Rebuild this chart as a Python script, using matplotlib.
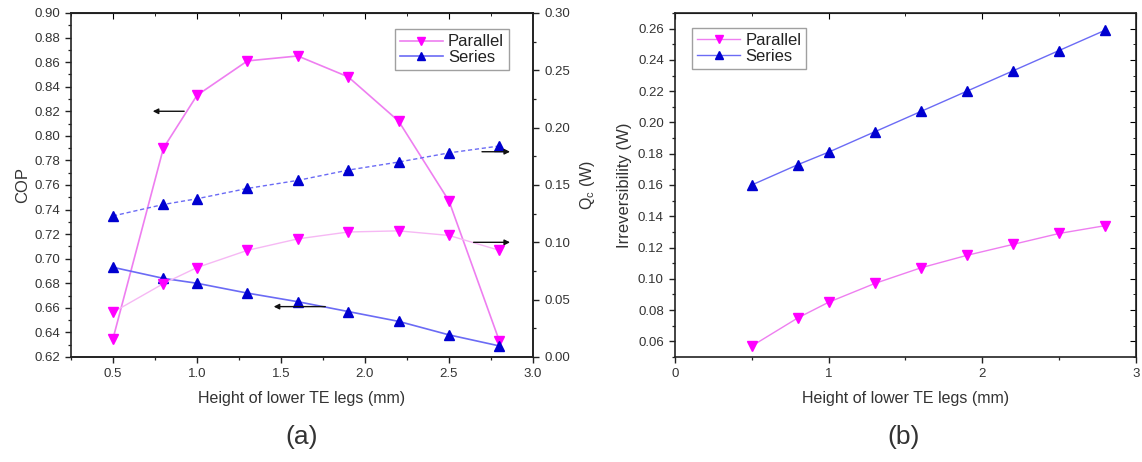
import numpy as np
import matplotlib.pyplot as plt
from matplotlib.ticker import MultipleLocator

plt.rcParams['font.family'] = ['Liberation Sans', 'DejaVu Sans']

# heights of lower TE legs (mm)
h = [0.5, 0.8, 1.0, 1.3, 1.6, 1.9, 2.2, 2.5, 2.8]

# (a) COP and cooling capacity
cop_par = [0.635, 0.790, 0.833, 0.861, 0.865, 0.848, 0.812, 0.747, 0.633]
cop_ser = [0.693, 0.684, 0.680, 0.672, 0.665, 0.657, 0.649, 0.638, 0.629]
qc_par = [0.039, 0.064, 0.078, 0.093, 0.103, 0.109, 0.110, 0.106, 0.093]
qc_ser = [0.123, 0.133, 0.138, 0.147, 0.154, 0.163, 0.170, 0.178, 0.184]

# (b) irreversibility
irr_par = [0.057, 0.075, 0.085, 0.097, 0.107, 0.115, 0.122, 0.129, 0.134]
irr_ser = [0.160, 0.173, 0.181, 0.194, 0.207, 0.220, 0.233, 0.246, 0.259]

MAG = '#ff00ff'
PINK = '#ee7ef0'
PINK_LIGHT = '#f6b8f4'
BLUE = '#0000d0'
BLUE_LINE = '#6b6bf5'
TXT = '#333333'
ms = 7.5

fig = plt.figure(figsize=(11.42, 4.62), dpi=100)
ax1 = fig.add_axes([0.0622, 0.2273, 0.4045, 0.7446])
ax2 = fig.add_axes([0.591, 0.2273, 0.4037, 0.7446])


def style(ax):
    for s in ax.spines.values():
        s.set_linewidth(1.2)
        s.set_color('#222222')
    ax.tick_params(which='both', direction='out', labelsize=9.5, colors='#222222',
                   labelcolor=TXT)
    ax.tick_params(which='major', length=4.5, width=1.0)
    ax.tick_params(which='minor', length=2.5, width=0.9)


def legend(ax, **kw):
    lg = ax.legend(fontsize=12, frameon=True, fancybox=False, edgecolor='#888888',
                   borderpad=0.3, handlelength=2.6, labelspacing=0.05, handletextpad=0.3,
                   borderaxespad=0, markerscale=0.85, **kw)
    lg.get_frame().set_linewidth(1.0)
    for t in lg.get_texts():
        t.set_color('#222222')
    return lg


# ---- (a)
style(ax1)
ax1.plot(h, cop_par, color=PINK, lw=1.2, marker='v', ms=ms, mfc=MAG, mec=MAG, label='Parallel')
ax1.plot(h, cop_ser, color=BLUE_LINE, lw=1.2, marker='^', ms=ms, mfc=BLUE, mec=BLUE, label='Series')
ax1.set_xlim(0.25, 3.0)
ax1.set_ylim(0.62, 0.90)
ax1.xaxis.set_minor_locator(MultipleLocator(0.25))
ax1.yaxis.set_major_locator(MultipleLocator(0.02))
ax1.yaxis.set_minor_locator(MultipleLocator(0.01))
ax1.xaxis.set_major_formatter(plt.FormatStrFormatter('%.1f'))
ax1.yaxis.set_major_formatter(plt.FormatStrFormatter('%.2f'))
ax1.set_xticks([0.5, 1.0, 1.5, 2.0, 2.5, 3.0])
ax1.set_ylabel('COP', fontsize=12, color=TXT, labelpad=3)
ax1.set_xlabel('Height of lower TE legs (mm)', fontsize=11.5, color=TXT, labelpad=8)
top1 = ax1.secondary_xaxis('top')
top1.set_xticks([0.5, 1.0, 1.5, 2.0, 2.5])
top1.xaxis.set_minor_locator(MultipleLocator(0.25))
top1.tick_params(which='both', direction='in', labeltop=False)
top1.tick_params(which='major', length=4.5)
top1.tick_params(which='minor', length=2.5)

ax1r = ax1.twinx()
style(ax1r)
ax1r.spines['left'].set_visible(False)
ax1r.plot(h, qc_par, color=PINK_LIGHT, lw=1.0, marker='v', ms=ms, mfc=MAG, mec=MAG)
ax1r.plot(h, qc_ser, color=BLUE_LINE, lw=1.0, ls=(0, (3, 2)), marker='^', ms=ms, mfc=BLUE, mec=BLUE)
ax1r.set_ylim(0, 0.30)
ax1r.yaxis.set_major_locator(MultipleLocator(0.05))
ax1r.yaxis.set_minor_locator(MultipleLocator(0.025))
ax1r.yaxis.set_major_formatter(plt.FormatStrFormatter('%.2f'))
ax1r.set_ylabel(r'Q$_\mathregular{c}$ (W)', fontsize=11.5, color=TXT, labelpad=6)

arr = dict(arrowstyle='-|>', color='#111111', lw=1.0, mutation_scale=8)
ax1.annotate('', xy=(0.72, 0.82), xytext=(0.94, 0.82), arrowprops=arr)
ax1.annotate('', xy=(1.44, 0.661), xytext=(1.78, 0.661), arrowprops=arr)
ax1r.annotate('', xy=(2.88, 0.100), xytext=(2.63, 0.100), arrowprops=arr)
ax1r.annotate('', xy=(2.88, 0.179), xytext=(2.68, 0.179), arrowprops=arr)

legend(ax1, loc='upper right', bbox_to_anchor=(0.948, 0.952))

fig.text(0.2644, 0.055, '(a)', ha='center', va='center', fontsize=19, color=TXT)

# ---- (b)
style(ax2)
ax2.plot(h, irr_par, color=PINK, lw=1.0, marker='v', ms=ms, mfc=MAG, mec=MAG, label='Parallel')
ax2.plot(h, irr_ser, color=BLUE_LINE, lw=1.0, marker='^', ms=ms, mfc=BLUE, mec=BLUE, label='Series')
ax2.set_xlim(0, 3)
ax2.set_ylim(0.05, 0.27)
ax2.xaxis.set_major_locator(MultipleLocator(1))
ax2.xaxis.set_minor_locator(MultipleLocator(0.5))
ax2.yaxis.set_minor_locator(MultipleLocator(0.01))
ax2.yaxis.set_major_formatter(plt.FormatStrFormatter('%.2f'))
ax2.set_yticks(np.arange(0.06, 0.261, 0.02))
ax2.set_ylabel('Irreversibility (W)', fontsize=12, color=TXT, labelpad=4)
ax2.set_xlabel('Height of lower TE legs (mm)', fontsize=11.5, color=TXT, labelpad=8)
top2 = ax2.secondary_xaxis('top')
top2.xaxis.set_major_locator(MultipleLocator(1))
top2.xaxis.set_minor_locator(MultipleLocator(0.5))
top2.tick_params(which='both', direction='in', labeltop=False)
top2.tick_params(which='major', length=4.5)
top2.tick_params(which='minor', length=2.5)
right2 = ax2.secondary_yaxis('right')
right2.yaxis.set_major_locator(MultipleLocator(0.02))
right2.yaxis.set_minor_locator(MultipleLocator(0.01))
right2.tick_params(which='both', direction='in', labelright=False)
right2.tick_params(which='major', length=4.5)
right2.tick_params(which='minor', length=2.5)

legend(ax2, loc='upper left', bbox_to_anchor=(0.037, 0.956))

fig.text(0.7915, 0.055, '(b)', ha='center', va='center', fontsize=19, color=TXT)

fig.savefig('out.png', dpi=100)
